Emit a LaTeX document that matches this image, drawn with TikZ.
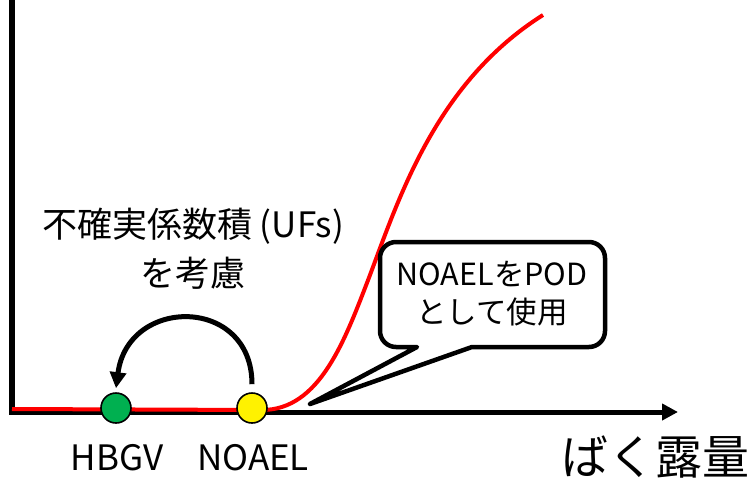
\documentclass[tikz,border=0pt]{standalone}
\usepackage{fontspec}
\setmainfont{Noto Sans CJK JP}
\usetikzlibrary{arrows.meta}
\definecolor{okgreen}{RGB}{0,176,80}
\tikzset{
  axisline/.style={line width=5pt,-{Triangle[length=16pt,width=16pt]}},
  curveline/.style={red,line width=4pt},
  dot/.style={circle,draw=black,line width=1.6pt,minimum size=30pt,inner sep=0pt},
  lbl/.style={font=\fontsize{35}{40}\selectfont,inner sep=0pt},
  calltext/.style={font=\fontsize{30.5}{38}\selectfont,align=center,inner sep=0pt},
  uftext/.style={font=\fontsize{35}{49}\selectfont,align=center,inner sep=0pt},
  callout/.style={draw=black,fill=white,line width=4.5pt,line join=round},
  bentarrow/.style={line width=5pt,-{Triangle[length=16pt,width=16pt]}}
}
\begin{document}
\begin{tikzpicture}[x=1pt,y=-1pt]
\useasboundingbox (0,0) rectangle (751,479);
% axes
\coordinate (origin) at (12,412);
\coordinate (ytop) at (12,-2);
\coordinate (xend) at (678,412);
\draw[line width=6pt] (origin) -- (ytop);
\draw[axisline] ([xshift=-3pt]origin) -- (xend);
% curve
\coordinate (c0) at (12,409);
\coordinate (c1) at (262,410);
\coordinate (c2) at (370,275);
\coordinate (c3) at (543,15);
\draw[curveline] (c0) -- (c1) .. controls (320,410) and (345,340) .. (c2) .. controls (400,195) and (437,82) .. (c3);
% dots
\node[dot,fill=okgreen] (hbgv) at (116,408) {};
\node[dot,fill=yellow] (noael) at (252,408) {};
% bent arrow
\draw[bentarrow] ([yshift=8pt]noael.north) .. controls (252,296) and (128,296) .. ([yshift=4pt]hbgv.north);
% labels
\node[lbl,anchor=base] (hbgvl) at (117,470) {HBGV};
\node[lbl,anchor=base] (noaell) at (253,470) {NOAEL};
\node[font=\fontsize{47}{47}\selectfont,inner sep=0pt,anchor=base] (xlab) at (655,474) {ばく露量};
\node[uftext] (uf) at (193,249) {不確実係数積 (UFs)\\を考慮};
% callout
\coordinate (tip) at (310,404);
\draw[callout] (417,347) [rounded corners=16pt] -- (380,347) -- (380,242) -- (605,242) -- (605,347) [sharp corners] -- (472,347) -- (tip) -- cycle;
\node[calltext] (call) at (492,294) {NOAELをPOD\\として使用};
\end{tikzpicture}
\end{document}
